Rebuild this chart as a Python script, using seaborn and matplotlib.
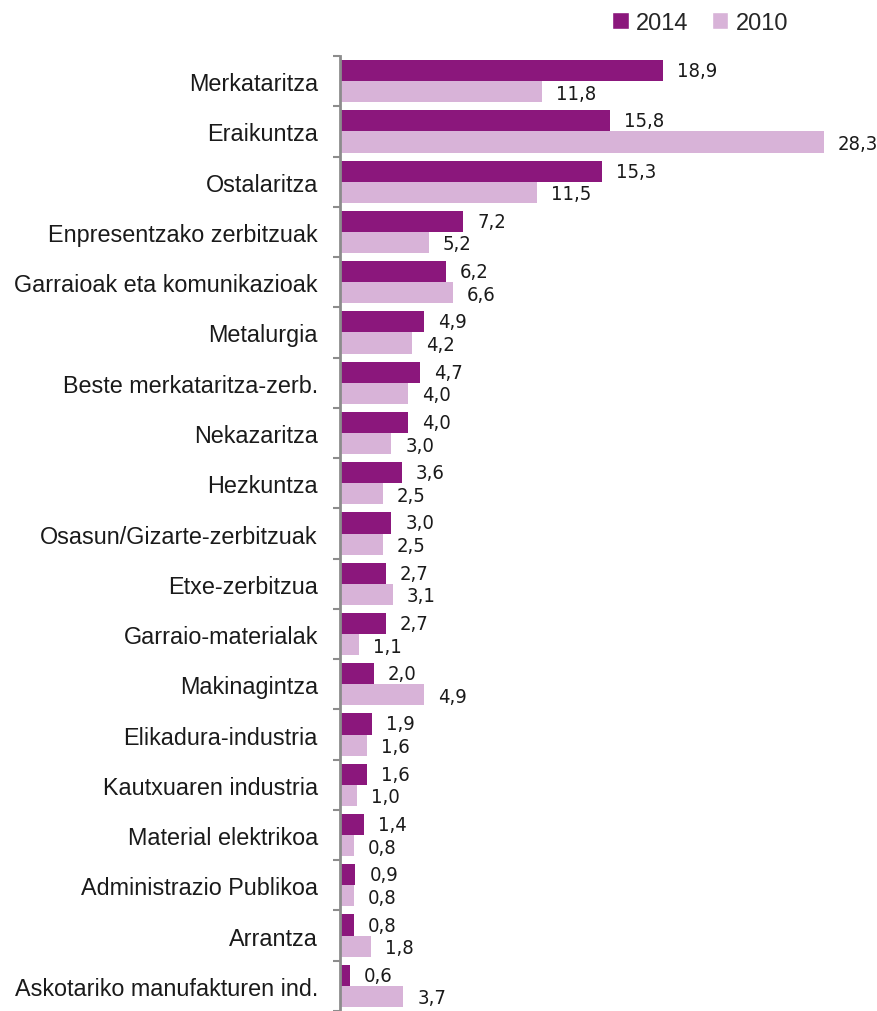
import numpy as np
import pandas as pd
import matplotlib
matplotlib.use("Agg")
import matplotlib.pyplot as plt
import seaborn as sns
from matplotlib.patches import Patch

sectors = [
    "Merkataritza", "Eraikuntza", "Ostalaritza", "Enpresentzako zerbitzuak",
    "Garraioak eta komunikazioak", "Metalurgia", "Beste merkataritza-zerb.",
    "Nekazaritza", "Hezkuntza", "Osasun/Gizarte-zerbitzuak", "Etxe-zerbitzua",
    "Garraio-materialak", "Makinagintza", "Elikadura-industria",
    "Kautxuaren industria", "Material elektrikoa", "Administrazio Publikoa",
    "Arrantza", "Askotariko manufakturen ind.",
]
v2014 = [18.9, 15.8, 15.3, 7.2, 6.2, 4.9, 4.7, 4.0, 3.6, 3.0, 2.7, 2.7, 2.0, 1.9, 1.6, 1.4, 0.9, 0.8, 0.6]
v2010 = [11.8, 28.3, 11.5, 5.2, 6.6, 4.2, 4.0, 3.0, 2.5, 2.5, 3.1, 1.1, 4.9, 1.6, 1.0, 0.8, 0.8, 1.8, 3.7]
years = ["2014", "2010"]
colors = ["#8B177C", "#D8B3D8"]

df = pd.DataFrame({
    "sector": sectors * 2,
    "year": ["2014"] * len(sectors) + ["2010"] * len(sectors),
    "value": v2014 + v2010,
})

sns.set_style("white")
plt.rcParams["font.family"] = ["Liberation Sans", "DejaVu Sans"]

fig = plt.figure(figsize=(8.78, 10.12), dpi=100)
ax = fig.add_axes([340 / 878, 0, 538 / 878, 1 - 57 / 1012])

sns.barplot(data=df, y="sector", x="value", hue="year", hue_order=years,
            palette=colors, orient="h", width=0.84, ax=ax, legend=False,
            saturation=1, linewidth=0)

ax.set_xlim(0, 538 / 17.1)
ax.set_ylim(len(sectors) - 0.5, -0.5)
ax.set_xlabel("")
ax.set_ylabel("")
ax.set_xticks([])
for s in ["top", "right", "bottom"]:
    ax.spines[s].set_visible(False)
ax.spines["left"].set_color("#8c8c8c")
ax.spines["left"].set_linewidth(2)

ax.set_yticks(range(len(sectors)))
ax.set_yticklabels(sectors, fontsize=16.8, color="#1a1a1a")
ax.tick_params(axis="y", which="major", left=False, length=0, pad=16)
ax.set_yticks(np.arange(-0.5, len(sectors), 1), minor=True)
ax.tick_params(axis="y", which="minor", left=True, length=5, width=1.5, color="#8c8c8c")

for cont, yoff in zip(ax.containers, [0.0, 0.03]):
    for bar in cont:
        w = bar.get_width()
        yc = bar.get_y() + bar.get_height() / 2
        ax.annotate(f"{w:.1f}".replace(".", ","), (w, yc + yoff),
                    xytext=(10, 0), textcoords="offset points",
                    ha="left", va="center", fontsize=14.5,
                    family="DejaVu Sans", fontstretch="condensed",
                    color="#1a1a1a")

handles = [Patch(facecolor=c, label=y) for c, y in zip(colors, years)]
fig.legend(handles=handles, loc="center", bbox_to_anchor=(700 / 878, 1 - 24 / 1012),
           ncol=2, frameon=False, fontsize=17, handlelength=0.7, handleheight=0.7,
           handletextpad=0.3, columnspacing=1.0)

fig.savefig("out.png", dpi=100)
